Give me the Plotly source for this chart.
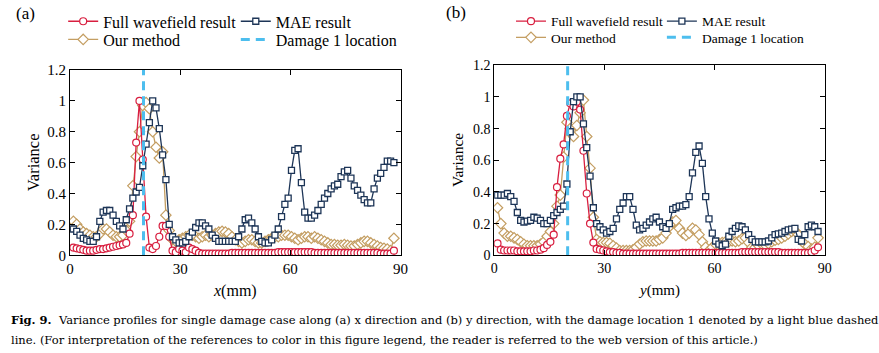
import plotly.graph_objects as go

W, H = 879, 353

# sampling grid (mm)
x_mm = [round(0.9 * k, 1) for k in range(1, 99)]

# ---------------- panel (a): along x ----------------
a_full = [0.05, 0.045, 0.04, 0.035, 0.03, 0.03, 0.03, 0.035, 0.04, 0.04,
          0.045, 0.05, 0.055, 0.06, 0.065, 0.07, 0.08, 0.14, 0.26, 0.73,
          1.0, 0.62, 0.25, 0.05, 0.04, 0.06, 0.12, 0.19, 0.19, 0.12,
          0.03, 0.02, 0.04, 0.03, 0.02, 0.05, 0.04, 0.03, 0.015, 0.01,
          0.01, 0.01, 0.01, 0.01, 0.01, 0.01, 0.01, 0.01, 0.015, 0.015,
          0.015, 0.015, 0.015, 0.015, 0.015, 0.015, 0.015, 0.015, 0.015, 0.015,
          0.015, 0.015, 0.02, 0.02, 0.02, 0.02, 0.02, 0.02, 0.02, 0.02,
          0.02, 0.02, 0.02, 0.015, 0.015, 0.015, 0.015, 0.015, 0.015, 0.015,
          0.015, 0.015, 0.015, 0.015, 0.015, 0.015, 0.015, 0.015, 0.015, 0.015,
          0.015, 0.015, 0.015, 0.01, 0.01, 0.01, 0.01, 0.03]
a_ours = [0.22, 0.2, 0.17, 0.15, 0.14, 0.13, 0.12, 0.12, 0.14, 0.17,
          0.17, 0.15, 0.13, 0.12, 0.12, 0.13, 0.16, 0.22, 0.45, 0.64,
          0.8, 0.97, 0.99, 0.95, 0.8, 0.7, 0.63, 0.67, 0.26, 0.16,
          0.1, 0.09, 0.1, 0.11, 0.12, 0.13, 0.13, 0.12, 0.11, 0.12,
          0.13, 0.12, 0.13, 0.14, 0.15, 0.155, 0.15, 0.14, 0.12, 0.1,
          0.09, 0.08, 0.09, 0.1, 0.1, 0.09, 0.08, 0.08, 0.09, 0.1,
          0.11, 0.12, 0.12, 0.13, 0.13, 0.13, 0.12, 0.11, 0.1, 0.11,
          0.12, 0.12, 0.11, 0.12, 0.11, 0.1, 0.09, 0.08, 0.07, 0.07,
          0.065, 0.065, 0.07, 0.065, 0.06, 0.06, 0.07, 0.08, 0.09, 0.09,
          0.08, 0.07, 0.06, 0.05, 0.045, 0.04, 0.03, 0.11]
a_mae = [0.17, 0.155, 0.13, 0.11, 0.1, 0.09, 0.09, 0.12, 0.22, 0.28,
         0.29, 0.29, 0.26, 0.22, 0.19, 0.17, 0.23, 0.3, 0.37, 0.41,
         0.44, 0.58, 0.72, 0.86, 1.0, 0.955, 0.82, 0.65, 0.49, 0.2,
         0.12, 0.1, 0.08, 0.08, 0.09, 0.12, 0.15, 0.18, 0.21, 0.21,
         0.19, 0.17, 0.13, 0.11, 0.09, 0.09, 0.09, 0.09, 0.09, 0.09,
         0.12, 0.17, 0.23, 0.24, 0.21, 0.17, 0.12, 0.09, 0.08, 0.08,
         0.1, 0.13, 0.17, 0.25, 0.33, 0.37, 0.55, 0.68, 0.69, 0.47,
         0.28, 0.24, 0.24, 0.26, 0.29, 0.33, 0.37, 0.4, 0.43, 0.45,
         0.46, 0.51, 0.54, 0.55, 0.5, 0.45, 0.42, 0.39, 0.36, 0.34,
         0.34, 0.43, 0.5, 0.53, 0.57, 0.61, 0.61, 0.6]

# ---------------- panel (b): along y ----------------
b_full = [0.075, 0.035, 0.03, 0.03, 0.03, 0.03, 0.025, 0.025, 0.025, 0.025,
          0.025, 0.03, 0.03, 0.035, 0.045, 0.065, 0.085, 0.13, 0.43, 0.61,
          0.7, 0.88, 0.96, 0.94, 0.97, 0.92, 0.66, 0.39, 0.2, 0.08,
          0.04, 0.035, 0.03, 0.025, 0.02, 0.02, 0.015, 0.015, 0.01, 0.01,
          0.01, 0.01, 0.01, 0.01, 0.01, 0.01, 0.01, 0.01, 0.01, 0.01,
          0.01, 0.01, 0.01, 0.01, 0.01, 0.01, 0.015, 0.015, 0.015, 0.015,
          0.015, 0.015, 0.015, 0.015, 0.015, 0.015, 0.015, 0.015, 0.015, 0.015,
          0.015, 0.015, 0.015, 0.015, 0.02, 0.02, 0.02, 0.02, 0.02, 0.02,
          0.02, 0.02, 0.02, 0.02, 0.02, 0.02, 0.015, 0.015, 0.015, 0.015,
          0.015, 0.015, 0.015, 0.015, 0.015, 0.02, 0.03, 0.05]
b_ours = [0.3, 0.2, 0.14, 0.12, 0.12, 0.11, 0.1, 0.085, 0.07, 0.06,
          0.06, 0.06, 0.06, 0.07, 0.085, 0.12, 0.15, 0.2, 0.31, 0.38,
          0.62, 0.84, 0.8, 0.75, 0.82, 0.9, 0.98, 0.75, 0.55, 0.24,
          0.1, 0.085, 0.08, 0.08, 0.075, 0.06, 0.045, 0.03, 0.03, 0.03,
          0.03, 0.035, 0.05, 0.07, 0.085, 0.09, 0.09, 0.09, 0.09, 0.1,
          0.11, 0.14, 0.18, 0.21, 0.22, 0.17, 0.14, 0.125, 0.14, 0.17,
          0.16, 0.13, 0.085, 0.05, 0.03, 0.05, 0.07, 0.075, 0.08, 0.085,
          0.085, 0.09, 0.085, 0.09, 0.105, 0.11, 0.08, 0.05, 0.05, 0.06,
          0.07, 0.065, 0.075, 0.085, 0.095, 0.1, 0.11, 0.12, 0.135, 0.15,
          0.155, 0.13, 0.09, 0.07, 0.055, 0.04, 0.05, 0.11]
b_mae = [0.38, 0.38, 0.38, 0.39, 0.37, 0.34, 0.27, 0.22, 0.21, 0.215,
         0.22, 0.24, 0.235, 0.22, 0.2, 0.2, 0.22, 0.25, 0.27, 0.29,
         0.31, 0.45, 0.78, 0.97, 1.0, 1.0, 0.83, 0.68, 0.5, 0.3,
         0.2, 0.18, 0.16, 0.14, 0.15, 0.17, 0.23, 0.29, 0.33, 0.37,
         0.37, 0.29, 0.19, 0.16, 0.17, 0.19, 0.21, 0.23, 0.24, 0.21,
         0.18, 0.17, 0.2, 0.29, 0.3, 0.31, 0.31, 0.32, 0.37, 0.52,
         0.65, 0.69, 0.58, 0.37, 0.23, 0.14, 0.09, 0.07, 0.06, 0.07,
         0.12, 0.15, 0.17, 0.185, 0.18, 0.16, 0.13, 0.1, 0.085, 0.085,
         0.085, 0.085, 0.09, 0.11, 0.13, 0.135, 0.14, 0.15, 0.16, 0.165,
         0.17, 0.1, 0.09, 0.13, 0.18, 0.19, 0.18, 0.15]

damage_loc = 20  # mm
y_ticks = [0, 0.2, 0.4, 0.6, 0.8, 1.0, 1.2]
x_ticks = [0, 30, 60, 90]
series_names = ["Full wavefield result", "MAE result", "Our method", "Damage 1 location"]

RED = "#D81E3F"
NAVY = "#1D3557"
TAN = "#C49E62"
BLUE = "#4DBEEE"
SERIF = "Liberation Serif"
CAP_FONT = "DejaVu Serif"


def px(xp):
    return xp / W


def py(yp):
    return 1 - yp / H


fig = go.Figure()

panels = [
    dict(xa="x", ya="y", full=a_full, ours=a_ours, mae=a_mae,
         legs=["legend2", "legend3", "legend4", "legend5"]),
    dict(xa="x2", ya="y2", full=b_full, ours=b_ours, mae=b_mae,
         legs=["legend6", "legend7", "legend8", "legend9"]),
]

for p in panels:
    fig.add_trace(go.Scatter(
        x=x_mm, y=p["ours"], xaxis=p["xa"], yaxis=p["ya"], mode="lines+markers",
        name=series_names[2], legend=p["legs"][2],
        line=dict(color=TAN, width=1.3),
        marker=dict(symbol="diamond", size=8, color="white", line=dict(color=TAN, width=1.2))))
    fig.add_trace(go.Scatter(
        x=x_mm, y=p["full"], xaxis=p["xa"], yaxis=p["ya"], mode="lines+markers",
        name=series_names[0], legend=p["legs"][0],
        line=dict(color=RED, width=1.3),
        marker=dict(symbol="circle", size=7, color="white", line=dict(color=RED, width=1.2))))
    fig.add_trace(go.Scatter(
        x=x_mm, y=p["mae"], xaxis=p["xa"], yaxis=p["ya"], mode="lines+markers",
        name=series_names[1], legend=p["legs"][1],
        line=dict(color=NAVY, width=1.3),
        marker=dict(symbol="square", size=6, color="white", line=dict(color=NAVY, width=1.3))))
    fig.add_trace(go.Scatter(
        x=[damage_loc, damage_loc], y=[y_ticks[0], y_ticks[-1]], xaxis=p["xa"], yaxis=p["ya"],
        mode="lines", name=series_names[3], legend=p["legs"][3],
        line=dict(color=BLUE, width=3, dash="9px,6px")))

# panel geometry in pixels
A = dict(l=67, r=402, t=65, b=259)
B = dict(l=497, r=832, t=60, b=259)

axis_common = dict(showgrid=False, zeroline=False, showline=True, linecolor="black",
                   linewidth=1, mirror="ticks", ticks="inside", ticklen=5,
                   tickcolor="black", tickwidth=1)

fig.update_layout(
    width=W, height=H, margin=dict(l=0, r=0, t=0, b=0),
    paper_bgcolor="white", plot_bgcolor="white",
    font=dict(family=SERIF, color="black"),
    xaxis=dict(domain=[px(A["l"]), px(A["r"])], range=[0, 90], tickvals=x_ticks,
               anchor="y", tickfont=dict(family=SERIF, size=15), **axis_common),
    yaxis=dict(domain=[py(A["b"]), py(A["t"])], range=[0, 1.2], tickvals=y_ticks,
               anchor="x", tickfont=dict(family=SERIF, size=15), **axis_common),
    xaxis2=dict(domain=[px(B["l"]), px(B["r"])], range=[0, 90], tickvals=x_ticks,
                anchor="y2", tickfont=dict(family=SERIF, size=14), **axis_common),
    yaxis2=dict(domain=[py(B["b"]), py(B["t"])], range=[0, 1.2], tickvals=y_ticks,
                anchor="x2", tickfont=dict(family=SERIF, size=14), **axis_common),
)

# legends: one entry each, placed like the reference's 2x2 layout
leg_specs = [
    ("legend2", 60, 14, 16), ("legend3", 235, 14, 16),
    ("legend4", 60, 33, 16), ("legend5", 235, 33, 16),
    ("legend6", 514, 14, 13.5), ("legend7", 667, 14, 13.5),
    ("legend8", 514, 31, 13.5), ("legend9", 667, 31, 13.5),
]
for name, lx, ly, fs in leg_specs:
    fig.update_layout({name: dict(x=px(lx), y=py(ly), xanchor="left", yanchor="middle",
                                  bgcolor="rgba(0,0,0,0)", borderwidth=0, itemwidth=30,
                                  font=dict(family=SERIF, size=fs, color="black"))})

ann = [
    dict(text="(a)", x=px(10), y=py(6), xanchor="left", yanchor="middle", font=dict(size=17)),
    dict(text="(b)", x=px(446), y=py(5), xanchor="left", yanchor="middle", font=dict(size=17)),
    dict(text="Variance", x=px(30), y=py((A["t"] + A["b"]) / 2), textangle=-90,
         xanchor="center", yanchor="middle", font=dict(size=16.5)),
    dict(text="Variance", x=px(460), y=py((B["t"] + B["b"]) / 2), textangle=-90,
         xanchor="center", yanchor="middle", font=dict(size=15.5)),
    dict(text="<i>x</i>(mm)", x=px((A["l"] + A["r"]) / 2), y=py(296),
         xanchor="center", yanchor="middle", font=dict(size=16)),
    dict(text="<i>y</i>(mm)", x=px((B["l"] + B["r"]) / 2), y=py(296),
         xanchor="center", yanchor="middle", font=dict(size=15)),
    dict(text="<b>Fig. 9.</b>  Variance profiles for single damage case along (a) x direction and (b) y direction, "
              "with the damage location 1 denoted by a light blue dashed",
         x=px(5), y=py(327), xanchor="left", yanchor="middle",
         font=dict(family=CAP_FONT, size=11.5)),
    dict(text="line. (For interpretation of the references to color in this figure legend, the reader is referred "
              "to the web version of this article.)",
         x=px(5), y=py(348), xanchor="left", yanchor="middle",
         font=dict(family=CAP_FONT, size=11.5)),
]
for a in ann:
    a.update(xref="paper", yref="paper", showarrow=False)
    a.setdefault("font", {})
    a["font"].setdefault("family", SERIF)
    a["font"].setdefault("color", "black")
fig.update_layout(annotations=ann)

fig.write_html("out.html")
